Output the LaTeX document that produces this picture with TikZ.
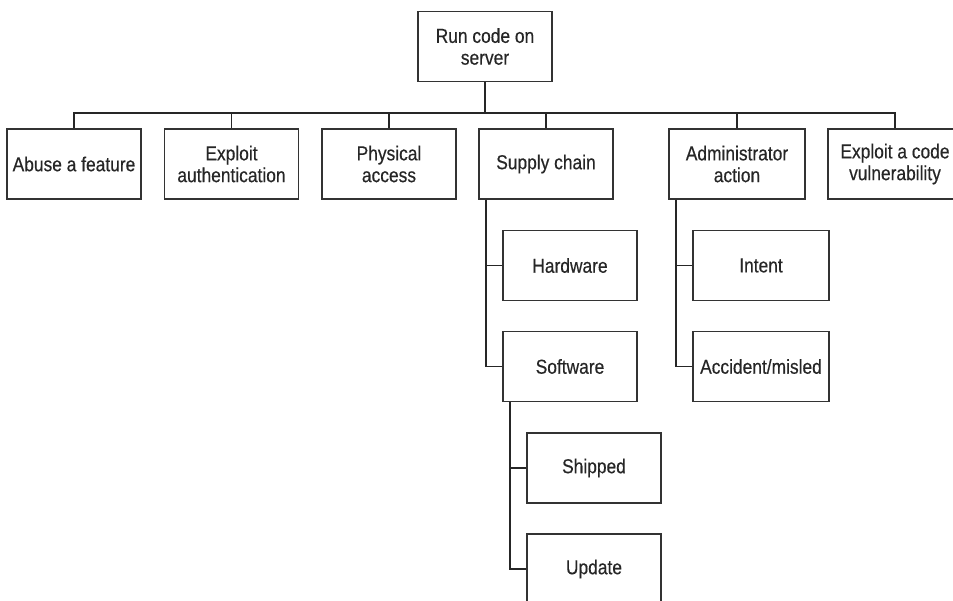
\documentclass[tikz,border=0pt]{standalone}
\usepackage{fontspec}
\setmainfont[FakeStretch=0.86, FakeBold=0.4]{Liberation Sans}
\usepackage{tikz}
\usetikzlibrary{calc}

\tikzset{
    goal/.style={draw=black!80, line width=0.8pt, text=black!85, align=center,
        minimum width=2.68cm, minimum height=1.4cm, inner sep=1pt,
        font=\fontsize{11.5}{12.4}\selectfont},
    link/.style={draw=black!85, line width=1.1pt}
}

\begin{document}
\begin{tikzpicture}[x=0.02cm, y=-0.02cm]
    \clip (0,0) rectangle (953,601);
    \node[goal] (root) at (485,46.5) {Run code on\\server};
    \node[goal] (abuse) at (74,164) {Abuse a feature};
    \node[goal] (auth) at (231.5,164) {Exploit\\authentication};
    \node[goal] (phys) at (389,164) {Physical\\access};
    \node[goal] (supply) at (546,164) {Supply chain};
    \node[goal, minimum width=2.72cm] (admin) at (737,164) {Administrator\\action};
    \node[goal] (vuln) at (895,164) {Exploit a code\\vulnerability};
    \node[goal] (hw) at (570,265.5) {Hardware}; \node[goal] (sw) at (570,366.5) {Software};
    \node[goal, minimum width=2.72cm] (intent) at (761,265.5) {Intent};
    \node[goal, minimum width=2.72cm] (misled) at (761,366.5) {Accident/misled};
    \node[goal] (shipped) at (594,468) {Shipped}; \node[goal] (update) at (594,569) {Update};

    % top level bus
    \coordinate (bus) at (485,113);
    \draw[link] (root.south) -- (bus);
    \foreach \c in {abuse,auth,phys,supply,admin,vuln} {\draw[link] (bus) -| (\c.north);}

    % side branches
    \coordinate (sc) at ($(supply.south west)+(8,0)$);
    \coordinate (ad) at ($(admin.south west)+(8,0)$);
    \coordinate (so) at ($(sw.south west)+(8,0)$);
    \draw[link] (sc) |- (hw.west); \draw[link] (sc) |- (sw.west);
    \draw[link] (ad) |- (intent.west); \draw[link] (ad) |- (misled.west);
    \draw[link] (so) |- (shipped.west); \draw[link] (so) |- (update.west);
\end{tikzpicture}
\end{document}
